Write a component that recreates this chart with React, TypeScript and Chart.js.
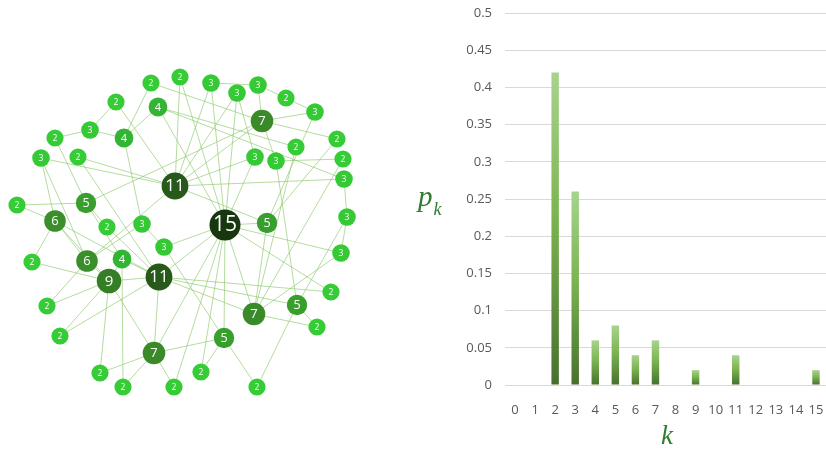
import React, { useEffect, useRef } from 'react';
import { Chart, registerables } from 'chart.js';

Chart.register(...registerables);

// ---------- Network (left) ----------
const nodeX = [151, 180, 211, 237, 258, 286, 315, 116, 158, 262, 90, 124, 55, 337, 296, 78, 41, 255, 276, 343, 344, 175, 17, 86, 55, 225, 267, 107, 142, 347, 164, 32, 87, 122, 341, 159, 109, 331, 47, 297, 254, 317, 60, 224, 154, 100, 201, 123, 174, 257];
const nodeY = [83, 77, 83, 93, 85, 98, 112, 102, 107, 121, 130, 138, 138, 139, 147, 157, 158, 157, 161, 159, 179, 186, 205, 203, 221, 225, 223, 227, 224, 217, 247, 262, 261, 259, 253, 277, 281, 292, 306, 305, 314, 327, 336, 338, 353, 373, 372, 387, 387, 387];
const nodeDegree = [2, 2, 3, 3, 3, 2, 3, 2, 4, 7, 3, 4, 2, 2, 2, 2, 3, 3, 3, 2, 3, 11, 2, 5, 6, 15, 5, 2, 3, 3, 3, 2, 6, 4, 3, 11, 9, 2, 2, 5, 7, 2, 2, 5, 7, 2, 2, 2, 2, 2];
const edgeA = [4, 5, 4, 6, 2, 9, 9, 18, 20, 20, 25, 34, 29, 26, 39, 40, 39, 43, 29, 35, 25, 30, 35, 43, 43, 25, 44, 44, 44, 25, 36, 24, 31, 24, 32, 36, 35, 36, 33, 22, 22, 12, 10, 7, 7, 10, 1, 1, 11, 0, 0, 2, 2, 3, 3, 3, 17, 17, 6, 8, 8, 8, 8, 14, 9, 9, 13, 18, 19, 35, 25, 35, 25, 21, 25, 28, 25, 25, 25, 36, 35, 33, 24, 27, 15, 15, 23, 33, 23, 32, 21, 28, 16, 16, 16, 24];
const edgeB = [5, 6, 9, 9, 4, 13, 18, 19, 21, 29, 34, 40, 34, 40, 41, 41, 49, 49, 39, 37, 37, 43, 44, 44, 46, 46, 47, 48, 45, 44, 45, 31, 36, 32, 38, 38, 42, 42, 47, 23, 24, 23, 12, 10, 21, 11, 21, 25, 28, 11, 9, 21, 25, 21, 25, 17, 21, 25, 26, 11, 25, 14, 20, 40, 21, 23, 26, 39, 40, 39, 40, 40, 26, 26, 30, 30, 35, 48, 43, 44, 36, 35, 35, 35, 35, 21, 27, 36, 33, 36, 32, 32, 32, 21, 24, 36];

// ---------- Degree distribution (right) ----------
const kLabels = ['0', '1', '2', '3', '4', '5', '6', '7', '8', '9', '10', '11', '12', '13', '14', '15'];
const pk = [0, 0, 0.42, 0.26, 0.06, 0.08, 0.04, 0.06, 0, 0.02, 0, 0.04, 0, 0, 0, 0.02];
const yTickLabels = ['0', '0.05', '0.1', '0.15', '0.2', '0.25', '0.3', '0.35', '0.4', '0.45', '0.5'];

function nodeRadius(d: number): number {
  const m: Record<number, number> = { 2: 8.6, 3: 8.8, 4: 9.4, 5: 10.2, 6: 10.8, 7: 11.3, 9: 12.3, 11: 13.4, 15: 15.5 };
  return m[d] ?? 9;
}
function nodeColor(d: number): string {
  const m: Record<number, string> = {
    2: '#36cc36', 3: '#36c936', 4: '#33b533', 5: '#389e2c', 6: '#3a8f2a', 7: '#3a8a2a', 9: '#357d26', 11: '#275a1a', 15: '#17380f',
  };
  return m[d] ?? '#36cc36';
}
function nodeFont(d: number): number {
  const m: Record<number, number> = { 2: 8.5, 3: 8.5, 4: 11, 5: 12.5, 6: 13, 7: 13, 9: 15, 11: 17, 15: 21 };
  return m[d] ?? 9;
}

const nodeLabelPlugin = {
  id: 'nodeLabels',
  afterDatasetsDraw(chart: any) {
    const meta = chart.getDatasetMeta(0);
    const ctx = chart.ctx;
    ctx.save();
    ctx.fillStyle = '#ffffff';
    ctx.textAlign = 'center';
    ctx.textBaseline = 'middle';
    meta.data.forEach((el: any, i: number) => {
      const d = nodeDegree[i];
      ctx.font = `${nodeFont(d)}px "Open Sans"`;
      ctx.fillText(String(d), el.x, el.y + 0.5);
    });
    ctx.restore();
  },
};

function NetworkChart() {
  const ref = useRef<HTMLCanvasElement>(null);
  useEffect(() => {
    if (!ref.current) return;
    const edgeSets = edgeA.map((a, i) => ({
      data: [
        { x: nodeX[a], y: nodeY[a] },
        { x: nodeX[edgeB[i]], y: nodeY[edgeB[i]] },
      ],
      showLine: true,
      borderColor: 'rgba(135,198,100,0.62)',
      borderWidth: 1,
      pointRadius: 0,
      order: 1,
    }));
    const nodeSet = {
      data: nodeX.map((x, i) => ({ x, y: nodeY[i] })),
      pointRadius: nodeDegree.map(nodeRadius),
      backgroundColor: nodeDegree.map(nodeColor),
      borderWidth: 0,
      showLine: false,
      order: 0,
    };
    const chart = new Chart(ref.current, {
      type: 'scatter',
      data: { datasets: [nodeSet as any, ...(edgeSets as any[])] },
      options: {
        responsive: false,
        animation: false,
        events: [],
        layout: { padding: 0, autoPadding: false },
        plugins: { legend: { display: false }, tooltip: { enabled: false } },
        scales: {
          x: { type: 'linear', min: 0, max: 400, display: false },
          y: { type: 'linear', min: 0, max: 449, reverse: true, display: false },
        },
      },
      plugins: [nodeLabelPlugin],
    });
    return () => chart.destroy();
  }, []);
  return <canvas ref={ref} width={400} height={449} style={{ position: 'absolute', left: 0, top: 0 }} />;
}

const titlesPlugin = {
  id: 'axisTitles',
  afterDraw(chart: any) {
    const c = chart.ctx;
    c.save();
    c.fillStyle = '#2f7d2f';
    c.textBaseline = 'alphabetic';
    c.textAlign = 'left';
    c.font = 'italic 29px "Liberation Serif"';
    c.fillText('p', 8, 206);
    const w = c.measureText('p').width;
    c.font = 'italic 18px "Liberation Serif"';
    c.fillText('k', 8 + w + 1, 215);
    c.font = 'italic 27px "Liberation Serif"';
    c.textAlign = 'center';
    c.fillText('k', 257, 444);
    c.restore();
  },
};

function DistChart() {
  const ref = useRef<HTMLCanvasElement>(null);
  useEffect(() => {
    if (!ref.current) return;
    const chart = new Chart(ref.current, {
      type: 'bar',
      data: {
        labels: kLabels,
        datasets: [
          {
            data: pk,
            barPercentage: 0.37,
            categoryPercentage: 1,
            borderWidth: 0,
            backgroundColor: (ctx: any) => {
              const ch = ctx.chart;
              if (!ch.chartArea || ctx.type !== 'data') return '#70ad47';
              const ys = ch.scales.y;
              const top = ys.getPixelForValue(pk[ctx.dataIndex]);
              const bottom = ys.getPixelForValue(0);
              if (!(bottom > top)) return '#70ad47';
              const g = ch.ctx.createLinearGradient(0, top, 0, bottom);
              g.addColorStop(0, '#a8d38e');
              g.addColorStop(0.45, '#7cb552');
              g.addColorStop(0.97, '#4b7430');
              g.addColorStop(1, '#466b2e');
              return g;
            },
          },
        ],
      },
      options: {
        responsive: false,
        animation: false,
        events: [],
        layout: { padding: { top: 13, left: 0, right: 0, bottom: 0 }, autoPadding: false },
        plugins: { legend: { display: false }, tooltip: { enabled: false } },
        scales: {
          x: {
            grid: { display: false },
            border: { display: false },
            ticks: {
              color: '#595959',
              font: { family: 'Open Sans', size: 13 },
              padding: 9,
              maxRotation: 0,
              autoSkip: false,
            },
            afterFit: (s: any) => {
              s.height = 64;
              s.paddingLeft = 0;
              s.paddingRight = 0;
            },
          },
          y: {
            min: 0,
            max: 0.5,
            grid: { color: '#d9d9d9', lineWidth: 1, drawTicks: false },
            border: { display: false },
            ticks: {
              stepSize: 0.05,
              padding: 13,
              color: '#595959',
              font: { family: 'Open Sans', size: 13 },
              callback: (_v: any, i: number) => yTickLabels[i],
            },
            afterFit: (s: any) => {
              s.width = 95;
              s.paddingTop = 0;
              s.paddingBottom = 0;
            },
          },
        },
      },
      plugins: [titlesPlugin],
    });
    return () => chart.destroy();
  }, []);
  return <canvas ref={ref} width={416} height={449} style={{ position: 'absolute', left: 410, top: 0 }} />;
}

export default function App() {
  return (
    <div style={{ position: 'fixed', left: 0, top: 0, width: 826, height: 449, background: '#ffffff', overflow: 'hidden' }}>
      <NetworkChart />
      <DistChart />
    </div>
  );
}
